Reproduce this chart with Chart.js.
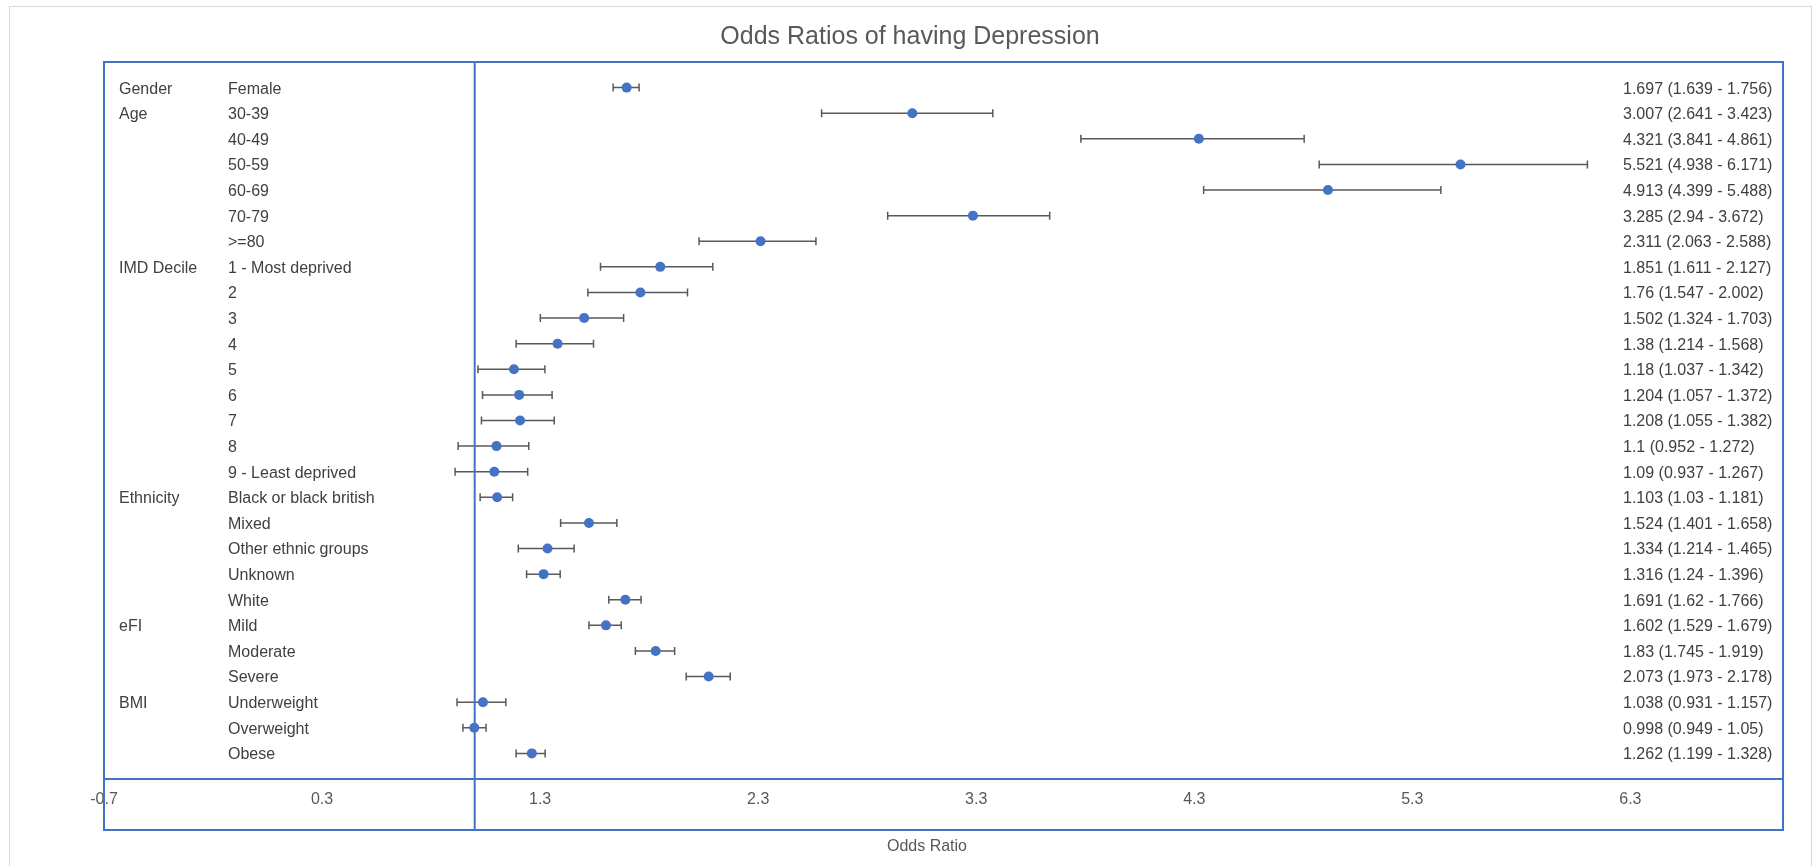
<!DOCTYPE html>
<html>
<head>
<meta charset="utf-8">
<title>Odds Ratios of having Depression</title>
<script src="https://cdn.jsdelivr.net/npm/chart.js@4.4.1/dist/chart.umd.min.js"></script>
<style>
  html, body { margin: 0; padding: 0; background: #fff; }
  #chart { display: block; }
</style>
</head>
<body>
<canvas id="chart" width="1814" height="866"></canvas>
<script>
// Rows, top to bottom
const groupNames = ['Gender', 'Age', '', '', '', '', '', 'IMD Decile', '', '', '', '', '', '', '', '',
  'Ethnicity', '', '', '', '', 'eFI', '', '', 'BMI', '', ''];
const categories = ['Female', '30-39', '40-49', '50-59', '60-69', '70-79', '>=80',
  '1 - Most deprived', '2', '3', '4', '5', '6', '7', '8', '9 - Least deprived',
  'Black or black british', 'Mixed', 'Other ethnic groups', 'Unknown', 'White',
  'Mild', 'Moderate', 'Severe', 'Underweight', 'Overweight', 'Obese'];

// Values printed on the right
const oddsRatio = [1.697, 3.007, 4.321, 5.521, 4.913, 3.285, 2.311, 1.851, 1.76, 1.502, 1.38, 1.18, 1.204,
  1.208, 1.1, 1.09, 1.103, 1.524, 1.334, 1.316, 1.691, 1.602, 1.83, 2.073, 1.038, 0.998, 1.262];
const lowerCI = [1.639, 2.641, 3.841, 4.938, 4.399, 2.94, 2.063, 1.611, 1.547, 1.324, 1.214, 1.037, 1.057,
  1.055, 0.952, 0.937, 1.03, 1.401, 1.214, 1.24, 1.62, 1.529, 1.745, 1.973, 0.931, 0.949, 1.199];
const upperCI = [1.756, 3.423, 4.861, 6.171, 5.488, 3.672, 2.588, 2.127, 2.002, 1.703, 1.568, 1.342, 1.372,
  1.382, 1.272, 1.267, 1.181, 1.658, 1.465, 1.396, 1.766, 1.679, 1.919, 2.178, 1.157, 1.05, 1.328];

// Error bar ends as drawn in the picture
const barLow = [1.635, 2.591, 3.780, 4.873, 4.343, 2.894, 2.029, 1.577, 1.519, 1.301, 1.190, 1.015, 1.036,
  1.031, 0.924, 0.910, 1.025, 1.394, 1.200, 1.238, 1.615, 1.524, 1.737, 1.970, 0.919, 0.946, 1.190];
const barHigh = [1.754, 3.376, 4.804, 6.103, 5.431, 3.637, 2.565, 2.092, 1.976, 1.683, 1.545, 1.322, 1.355,
  1.365, 1.248, 1.243, 1.174, 1.652, 1.456, 1.392, 1.763, 1.672, 1.917, 2.172, 1.143, 1.052, 1.323];

const xTicks = [-0.7, 0.3, 1.3, 2.3, 3.3, 4.3, 5.3, 6.3];
const xMin = -0.7;
const xMax = 7.0;
const refLine = 1.0;

const chartTitle = 'Odds Ratios of having Depression';
const xTitle = 'Odds Ratio';

const BLUE = '#4472C4';
const FONT = '"Liberation Sans", Arial, sans-serif';

const ciLabels = oddsRatio.map((v, i) => `${v} (${lowerCI[i]} - ${upperCI[i]})`);
const points = oddsRatio.map((v, i) => ({ x: v, y: i + 1 }));

// Draws the error bars, frame, reference line, titles and row labels
const forestPlugin = {
  id: 'forest',
  beforeDraw(chart) {
    const ctx = chart.ctx;
    ctx.save();
    ctx.strokeStyle = '#d9d9d9';
    ctx.lineWidth = 1;
    ctx.strokeRect(9.5, 6.5, 1802, 880);

    // titles
    ctx.fillStyle = '#595959';
    ctx.textAlign = 'center';
    ctx.textBaseline = 'middle';
    ctx.font = '25px ' + FONT;
    ctx.fillText(chartTitle, 910, 37);
    ctx.font = '16px ' + FONT;
    ctx.fillText(xTitle, 927, 847);
    ctx.restore();
  },
  beforeDatasetsDraw(chart) {
    const { ctx, chartArea } = chart;
    const x = chart.scales.x;
    const y = chart.scales.y;

    // error bars
    ctx.save();
    ctx.strokeStyle = '#595959';
    ctx.lineWidth = 1.5;
    categories.forEach((c, i) => {
      const py = y.getPixelForValue(i + 1);
      const x1 = x.getPixelForValue(barLow[i]);
      const x2 = x.getPixelForValue(barHigh[i]);
      ctx.beginPath();
      ctx.moveTo(x1, py);
      ctx.lineTo(x2, py);
      ctx.moveTo(x1, py - 4);
      ctx.lineTo(x1, py + 4);
      ctx.moveTo(x2, py - 4);
      ctx.lineTo(x2, py + 4);
      ctx.stroke();
    });
    ctx.restore();

    // frame and axis lines
    const bottom = chart.height - 36;
    ctx.save();
    ctx.strokeStyle = BLUE;
    ctx.lineWidth = 2;
    ctx.strokeRect(chartArea.left, chartArea.top, chartArea.right - chartArea.left, bottom - chartArea.top);
    ctx.beginPath();
    ctx.moveTo(chartArea.left, chartArea.bottom);
    ctx.lineTo(chartArea.right, chartArea.bottom);
    const rx = x.getPixelForValue(refLine);
    ctx.moveTo(rx, chartArea.top);
    ctx.lineTo(rx, bottom);
    ctx.stroke();
    ctx.restore();

    // row labels
    ctx.save();
    ctx.font = '16px ' + FONT;
    ctx.fillStyle = '#404040';
    ctx.textBaseline = 'middle';
    ctx.textAlign = 'left';
    categories.forEach((c, i) => {
      const py = y.getPixelForValue(i + 1) + 1.5;
      if (groupNames[i]) ctx.fillText(groupNames[i], 119, py);
      ctx.fillText(c, 228, py);
      ctx.fillText(ciLabels[i], 1623, py);
    });
    ctx.restore();
  }
};

new Chart(document.getElementById('chart'), {
  type: 'scatter',
  data: {
    datasets: [{
      label: 'Odds Ratio',
      data: points,
      pointRadius: 5,
      pointHoverRadius: 5,
      pointBackgroundColor: BLUE,
      pointBorderWidth: 0,
      showLine: false
    }]
  },
  options: {
    responsive: false,
    animation: false,
    events: [],
    layout: { padding: { left: 104, right: 31, top: 62, bottom: 0 } },
    plugins: {
      legend: { display: false },
      tooltip: { enabled: false },
      title: { display: false }
    },
    scales: {
      x: {
        type: 'linear',
        min: xMin,
        max: xMax,
        grid: { display: false, drawTicks: false },
        border: { display: false },
        afterBuildTicks: axis => { axis.ticks = xTicks.map(v => ({ value: v })); },
        afterFit: axis => { axis.height = 87; },
        ticks: {
          autoSkip: false,
          maxRotation: 0,
          padding: 11,
          color: '#595959',
          font: { family: FONT, size: 16 },
          callback: v => Number(v).toFixed(1)
        }
      },
      y: {
        type: 'linear',
        display: false,
        min: 0,
        max: 28,
        reverse: true
      }
    }
  },
  plugins: [forestPlugin]
});
</script>
</body>
</html>
